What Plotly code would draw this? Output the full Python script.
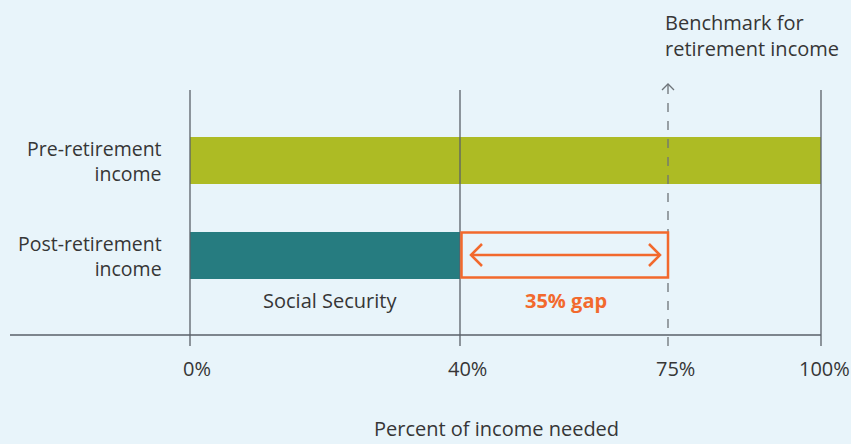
import numpy as np
import plotly.graph_objects as go

# ---- data ----
categories = ["Pre-retirement<br>income", "Post-retirement<br>income"]
income_pct = [100, 40]
benchmark_pct = 75
benchmark_label = "Benchmark for<br>retirement income"
gap_label = "35% gap"
base_label = "Social Security"
tick_pct = [0, 40, 75, 100]
tick_labels = ["0%", "40%", "75%", "100%"]
axis_title = "Percent of income needed"

# ---- styling / layout ----
W, H = 851, 444
BG = "#e8f4fa"
OLIVE = "#adbb24"
TEAL = "#267c80"
ORANGE = "#f2692d"
LINE = "#5a6068"
TXT = "#363636"
FONT = "Open Sans"
FS = 20

# illustrative (non-linear) horizontal scale used by the original graphic
scale_pct = [0, 40, 75, 100]
scale_px = [190, 460, 668, 821]


def X(p):
    return float(np.interp(p, scale_pct, scale_px))


ROW = 95.0       # px between bar rows
Y0 = 255.5       # px of the lower row centre


def Y(px):
    return (Y0 - px) / ROW


row_y = [1, 0]

fig = go.Figure()
fig.add_trace(go.Bar(
    y=row_y,
    x=[X(v) - X(0) for v in income_pct],
    base=X(0),
    orientation="h",
    width=47 / ROW,
    marker=dict(color=[OLIVE, TEAL], line=dict(width=0)),
    hoverinfo="skip",
))

shapes = []
# vertical reference lines (solid)
for p in [0, income_pct[1], income_pct[0]]:
    shapes.append(dict(type="line", xref="x", yref="y", x0=X(p), x1=X(p),
                       y0=Y(90), y1=Y(346), line=dict(color=LINE, width=1.3)))
# baseline
shapes.append(dict(type="line", xref="x", yref="y", x0=10, x1=X(100),
                   y0=Y(335), y1=Y(335), line=dict(color=LINE, width=1.3)))
# benchmark dashed line
xb = X(benchmark_pct)
shapes.append(dict(type="line", xref="x", yref="y", x0=xb, x1=xb,
                   y0=Y(85), y1=Y(346), line=dict(color="#6d7378", width=1.3, dash="dash")))
# benchmark chevron
shapes.append(dict(type="path", xref="x", yref="y",
                   path=f"M {xb-6},{Y(90)} L {xb},{Y(84)} L {xb+6},{Y(90)}",
                   line=dict(color="#6d7378", width=1.3)))
# gap box
shapes.append(dict(type="rect", xref="x", yref="y", x0=X(income_pct[1]) + 1.5, x1=xb,
                   y0=Y(232.5), y1=Y(277.5), line=dict(color=ORANGE, width=2.5)))
# double-headed arrow
ya = Y(255)
xl, xr = X(income_pct[1]) + 11, xb - 8
shapes.append(dict(type="line", xref="x", yref="y", x0=xl, x1=xr, y0=ya, y1=ya,
                   line=dict(color=ORANGE, width=2.5)))
shapes.append(dict(type="path", xref="x", yref="y",
                   path=f"M {xl+11},{Y(244)} L {xl},{ya} L {xl+11},{Y(266)}",
                   line=dict(color=ORANGE, width=2.5)))
shapes.append(dict(type="path", xref="x", yref="y",
                   path=f"M {xr-11},{Y(244)} L {xr},{ya} L {xr-11},{Y(266)}",
                   line=dict(color=ORANGE, width=2.5)))

ann = []
for p, t in zip(tick_pct, tick_labels):
    ann.append(dict(x=X(p) + (3 if p == 100 else 7), y=Y(368), text=t, showarrow=False,
                    xref="x", yref="y", font=dict(size=FS, color=TXT)))
ann.append(dict(x=496, y=Y(443), yanchor="bottom", borderpad=0, text=axis_title,
                showarrow=False, xref="x", yref="y", font=dict(size=FS, color=TXT)))
for yy, c in zip(row_y, categories):
    ann.append(dict(x=164, y=yy, text=c, showarrow=False, xref="x", yref="y",
                    xanchor="right", align="right", font=dict(size=19.5, color=TXT)))
ann.append(dict(x=330, y=Y(300), text=base_label, showarrow=False,
                xref="x", yref="y", font=dict(size=FS, color=TXT)))
ann.append(dict(x=(X(income_pct[1]) + xb) / 2 + 2, y=Y(300), text=f"<b>{gap_label}</b>",
                showarrow=False, xref="x", yref="y", font=dict(size=FS, color=ORANGE)))
ann.append(dict(x=663, y=Y(35), text=benchmark_label, showarrow=False, xref="x", yref="y",
                xanchor="left", align="left", font=dict(size=FS, color=TXT)))

fig.update_layout(
    width=W, height=H,
    margin=dict(l=0, r=0, t=0, b=0),
    paper_bgcolor=BG, plot_bgcolor=BG,
    font=dict(family=FONT, color=TXT),
    showlegend=False,
    xaxis=dict(range=[0, W], visible=False, fixedrange=True),
    yaxis=dict(range=[Y(H), Y(0)], visible=False, fixedrange=True),
    shapes=shapes, annotations=ann,
    bargap=0,
)

fig.write_html("out.html", config={"displayModeBar": False},
               post_script="document.body.style.margin='0';document.body.style.overflow='hidden';")
